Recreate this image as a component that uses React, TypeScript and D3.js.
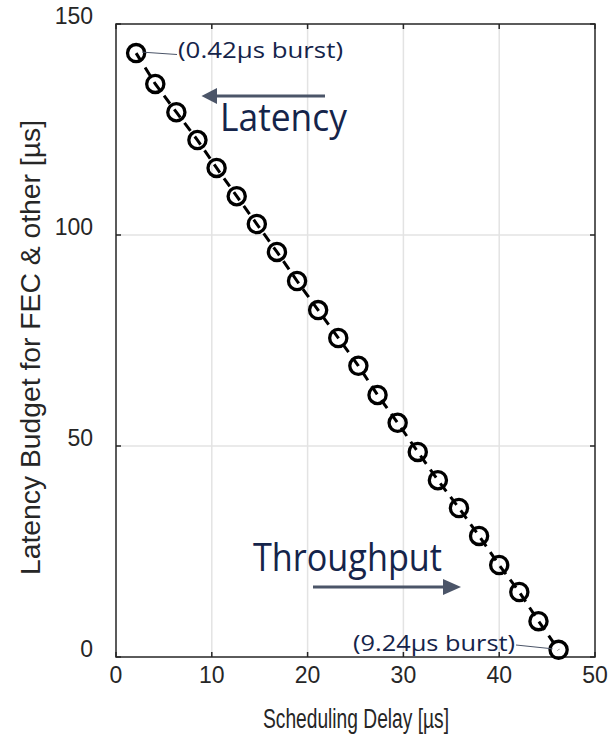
import React from "react";
import * as d3 from "d3";

const schedDelay = [2.1, 4.1, 6.3, 8.5, 10.5, 12.6, 14.7, 16.8, 18.9, 21.1, 23.2, 25.3, 27.3, 29.4, 31.5, 33.6, 35.8, 37.9, 40.0, 42.1, 44.1, 46.2];
const latencyBudget = [143.1, 135.8, 129.1, 122.5, 115.9, 109.2, 102.6, 96.0, 89.1, 82.2, 75.6, 69.0, 62.1, 55.5, 48.6, 41.9, 35.3, 28.7, 21.8, 15.4, 8.5, 1.7];
const xTicks = [0, 10, 20, 30, 40, 50];
const yTicks = [0, 50, 100, 150];
const xLabel = "Scheduling Delay [µs]";
const yLabel = "Latency Budget for FEC & other [µs]";
const firstNote = "(0.42µs burst)";
const lastNote = "(9.24µs burst)";

const W = 609, H = 735;
const L = 116, R = 595, T = 24, B = 657;

export default function App() {
  const x = d3.scaleLinear().domain([0, 50]).range([L, R]);
  const y = d3.scaleLinear().domain([0, 150]).range([B, T]);
  const pts = schedDelay.map((d, i) => [d, latencyBudget[i]] as [number, number]);
  const line = d3.line<[number, number]>().x(d => x(d[0])).y(d => y(d[1]));
  const axisColor = "#262626";
  const navy = "#15244a";
  const arrowCol = "#4b5568";
  const tickFont = "'Liberation Sans', Arial, sans-serif";
  const noteFont = "'Open Sans', 'Noto Sans', sans-serif";
  const first = pts[0], last = pts[pts.length - 1];
  return (
    <svg width={W} height={H} style={{ position: "absolute", left: 0, top: 0, background: "#fff" }}>
      <rect x={0} y={0} width={W} height={H} fill="#fff" />
      {/* grid */}
      {xTicks.slice(1, -1).map(t => (
        <line key={"gx" + t} x1={x(t)} x2={x(t)} y1={T} y2={B} stroke="#e3e3e3" strokeWidth={1.5} />
      ))}
      {yTicks.slice(1, -1).map(t => (
        <line key={"gy" + t} x1={L} x2={R} y1={y(t)} y2={y(t)} stroke="#e3e3e3" strokeWidth={1.5} />
      ))}
      {/* box */}
      <rect x={L} y={T} width={R - L} height={B - T} fill="none" stroke={axisColor} strokeWidth={1.5} />
      {xTicks.map(t => (
        <g key={"xt" + t}>
          <line x1={x(t)} x2={x(t)} y1={B} y2={B - 5} stroke={axisColor} strokeWidth={1.5} />
          <line x1={x(t)} x2={x(t)} y1={T} y2={T + 5} stroke={axisColor} strokeWidth={1.5} />
          <text x={x(t)} y={B + 26} textAnchor="middle" fontFamily={tickFont} fontSize={23} fill={axisColor}>{t}</text>
        </g>
      ))}
      {yTicks.map(t => (
        <g key={"yt" + t}>
          <line x1={L} x2={L + 5} y1={y(t)} y2={y(t)} stroke={axisColor} strokeWidth={1.5} />
          <line x1={R} x2={R - 5} y1={y(t)} y2={y(t)} stroke={axisColor} strokeWidth={1.5} />
          <text x={L - 23} y={y(t)} textAnchor="end" fontFamily={tickFont} fontSize={23} fill={axisColor}>{t}</text>
        </g>
      ))}
      <text x={263} y={728} textLength={186} lengthAdjust="spacingAndGlyphs" fontFamily={tickFont} fontSize={27} fill={axisColor}>{xLabel}</text>
      <text transform={`translate(40,575) rotate(-90)`} textLength={455} lengthAdjust="spacingAndGlyphs" fontFamily={tickFont} fontSize={27} fill={axisColor}>{yLabel}</text>
      {/* series */}
      <path d={line(pts) || ""} fill="none" stroke="#000" strokeWidth={3} strokeDasharray="10,7" />
      {pts.map((p, i) => (
        <circle key={i} cx={x(p[0])} cy={y(p[1])} r={8.6} fill="none" stroke="#000" strokeWidth={3.3} />
      ))}
      {/* annotations */}
      <line x1={x(first[0]) + 6} y1={y(first[1]) - 1} x2={177} y2={54.5} stroke={arrowCol} strokeWidth={1} />
      <text x={178} y={58} textLength={165} lengthAdjust="spacingAndGlyphs" fontFamily={noteFont} fontSize={22} fill={navy}>{firstNote}</text>
      <line x1={516} y1={645} x2={x(last[0]) - 6} y2={y(last[1]) - 1} stroke={arrowCol} strokeWidth={1} />
      <text x={353} y={651} textLength={162} lengthAdjust="spacingAndGlyphs" fontFamily={noteFont} fontSize={22} fill={navy}>{lastNote}</text>
      <line x1={325} y1={96} x2={212} y2={96} stroke={arrowCol} strokeWidth={3} />
      <path d="M201.5,96 L217,88 L217,104 Z" fill={arrowCol} />
      <text x={220} y={131} textLength={127} lengthAdjust="spacingAndGlyphs" fontFamily={noteFont} fontSize={38} fill={navy}>Latency</text>
      <line x1={313} y1={587} x2={450} y2={587} stroke={arrowCol} strokeWidth={3} />
      <path d="M461,587 L443,579 L443,595 Z" fill={arrowCol} />
      <text x={253} y={571} textLength={189} lengthAdjust="spacingAndGlyphs" fontFamily={noteFont} fontSize={38} fill={navy}>Throughput</text>
    </svg>
  );
}
